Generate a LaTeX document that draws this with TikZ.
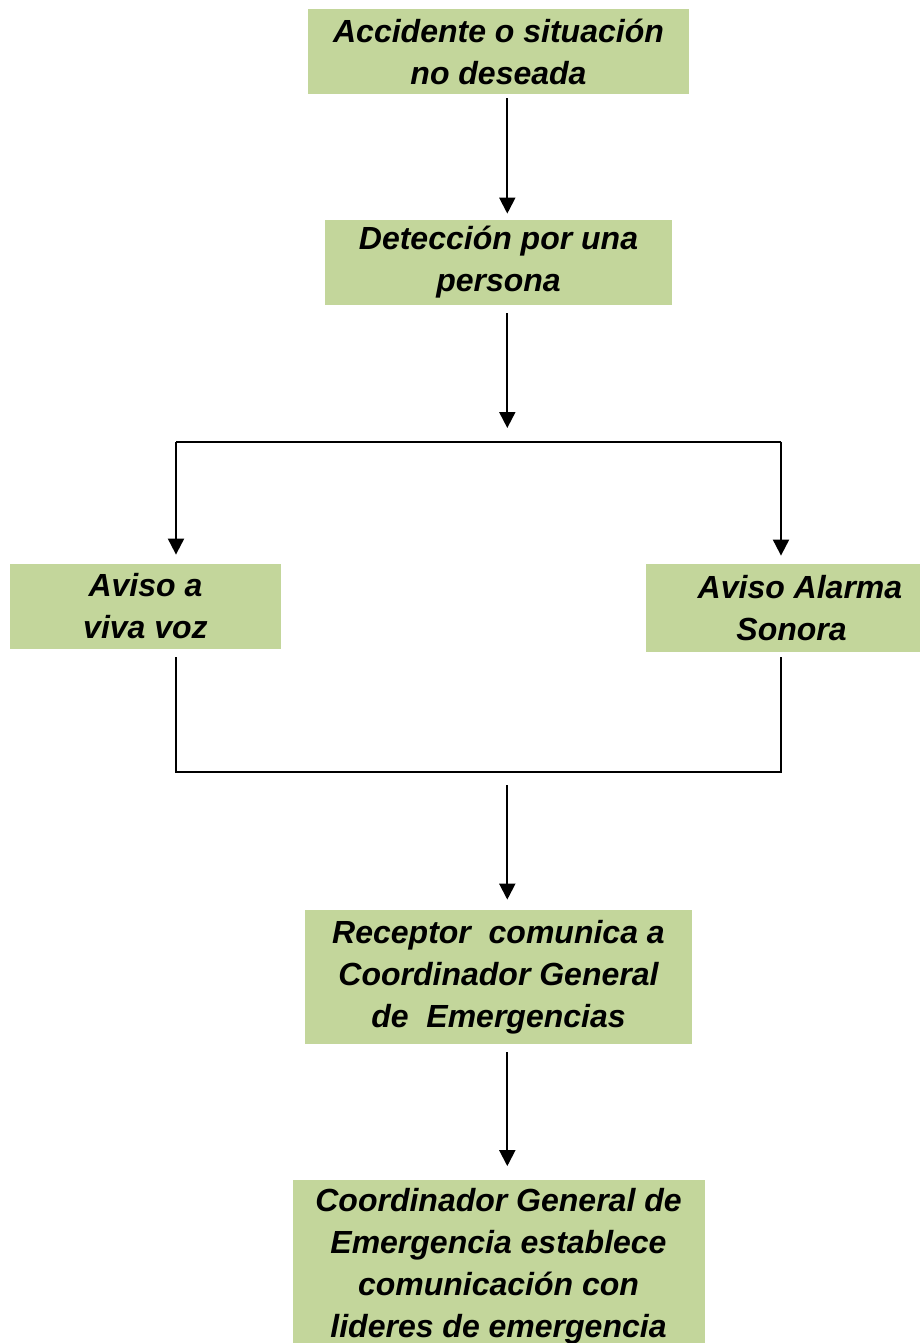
\documentclass[tikz,border=0pt]{standalone}
\usepackage{fontspec}
\setmainfont{Liberation Sans}
\usetikzlibrary{shapes, arrows.meta}
\definecolor{boxgreen}{RGB}{195,214,155}
\tikzstyle{process} = [rectangle, minimum height=42.5pt, inner sep=0pt, text centered, align=center, fill=boxgreen, font=\bfseries\itshape\fontsize{16}{21}\selectfont]
\tikzstyle{line} = [draw, line width=1pt, -{Triangle[length=8pt, width=8pt]}]
\tikzstyle{link} = [draw, line width=1pt]

\begin{document}
\begin{tikzpicture}[node distance=105.5pt, auto]
            \useasboundingbox (0,0) rectangle (460pt,-671.5pt);
            \clip (0,0) rectangle (460pt,-671.5pt);

            % Nodes of flowchart
            % Main line
            \node (start) [process, minimum width=190.5pt] at (249.25pt,-25.75pt) {Accidente o situación\\no deseada};
            \node (det) [process, below of=start, minimum width=173.5pt] {Detección por una\\persona};
            \node (rec) [process, below of=det, yshift=-251.75pt, minimum width=193.5pt, minimum height=67pt] {Receptor~ comunica a\\Coordinador General\\de~ Emergencias};
            \node (coord) [process, below of=rec, yshift=-39pt, minimum width=206pt, minimum height=86.5pt] {Coordinador General de\\Emergencia establece\\comunicación con\\lideres de emergencia};

            % Side boxes
            \node (voz) [process, below of=det, xshift=-176.5pt, yshift=-66.5pt, minimum width=135.5pt] {Aviso a\\viva voz};
            \node (alarma) [process, below of=det, xshift=142.25pt, yshift=-67.25pt, minimum width=137pt, minimum height=44pt] {\hspace*{17pt}Aviso Alarma\\\hspace*{8.6pt}Sonora};

            % Fork and join points
            \coordinate (fork_l) at (88pt,-220.75pt);
            \coordinate (fork_m) at (253.65pt,-220.75pt);
            \coordinate (fork_r) at (390.5pt,-220.75pt);
            \coordinate (join_l) at (88pt,-386pt);
            \coordinate (join_m) at (253.65pt,-386pt);
            \coordinate (join_r) at (390.5pt,-386pt);

            % Draw lines
            % Main line
            \path [line, shorten <=2pt, shorten >=3pt] ([xshift=4.4pt] start.south) -- ([xshift=4.4pt] det.north);
            \path [line, shorten <=4pt, shorten >=6.75pt] ([xshift=4.4pt] det.south) -- (fork_m);
            \path [line, shorten <=6.5pt, shorten >=5pt] (join_m) -- ([xshift=4.4pt] rec.north);
            \path [line, shorten <=4pt, shorten >=6.5pt] ([xshift=4.4pt] rec.south) -- ([xshift=4.4pt] coord.north);

            % Fork
            \path [link] (fork_l) -- (fork_r);
            \path [line, shorten >=4.5pt] (fork_l) -- (fork_l |- voz.north);
            \path [line, shorten >=4pt] (fork_r) -- (fork_r |- alarma.north);

            % Join
            \path [link, shorten <=4pt, shorten >=2.5pt] (join_l |- voz.south) -- (join_l) -- (join_r) -- (join_r |- alarma.south);
        \end{tikzpicture}
\end{document}
